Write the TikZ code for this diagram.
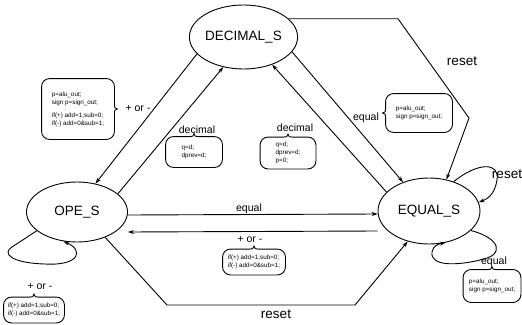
\documentclass[tikz,border=0pt]{standalone}
\usepackage{fontspec}
\setmainfont{Liberation Sans}
\usetikzlibrary{shapes.geometric,arrows.meta,calc}

\tikzset{
  state/.style={draw, ellipse, inner sep=0pt, minimum width=102pt, minimum height=62pt, font=\fontsize{13.5}{16}\selectfont},
  lbl/.style={font=\fontsize{10.5}{12}\selectfont, inner sep=1pt},
  biglbl/.style={font=\fontsize{13.5}{16}\selectfont, inner sep=1pt},
  memo/.style={align=left, inner sep=2pt, font=\fontsize{6.3}{8}\selectfont}
}

\newcommand{\memotop}[1]{%
  \draw[rounded corners=8pt] ($(#1.north)+(-4,0)$) -| (#1.south west) -| (#1.north east) -- ($(#1.north)+(4,0)$);
  \draw ($(#1.north)+(-4,0)$) .. controls ($(#1.north)+(-1,0)$) .. ($(#1.north)+(0,-3)$) .. controls ($(#1.north)+(1,0)$) .. ($(#1.north)+(4,0)$);}
\newcommand{\memoleft}[1]{%
  \draw[rounded corners=8pt] ($(#1.west)+(0,-4)$) |- (#1.north east) |- (#1.south west) -- ($(#1.west)+(0,4)$);
  \draw ($(#1.west)+(0,-4)$) .. controls ($(#1.west)+(0,-1)$) .. ($(#1.west)+(-3,0)$) .. controls ($(#1.west)+(0,1)$) .. ($(#1.west)+(0,4)$);}
\newcommand{\memoright}[1]{%
  \draw[rounded corners=8pt] ($(#1.east)+(0,-4)$) |- (#1.north west) |- (#1.south east) -- ($(#1.east)+(0,4)$);
  \draw ($(#1.east)+(0,-4)$) .. controls ($(#1.east)+(0,-1)$) .. ($(#1.east)+(3,0)$) .. controls ($(#1.east)+(0,1)$) .. ($(#1.east)+(0,4)$);}

\begin{document}
\begin{tikzpicture}[x=1pt,y=-1pt,line width=0.9pt,>={Stealth[length=6pt,width=4pt]}]
	\useasboundingbox (0,0) rectangle (522,324);

	\node[state, minimum width=106pt, minimum height=64pt] (dec) at (243.5,37) {DECIMAL\_S};
	\node[state, minimum width=101pt, minimum height=60pt] (ope) at (77,212) {OPE\_S};
	\node[state, minimum height=66pt] (eq) at (429,211) {EQUAL\_S};

	\coordinate (rt1) at (398,17);
	\coordinate (rt2) at (469,118);
	\coordinate (rb1) at (167,305);
	\coordinate (rb2) at (355,305);

	\draw[->] (dec.200) -- (ope.57);
	\draw[->] (ope.24) -- (dec.236);
	\draw[->] (dec.343) -- (eq.132);
	\draw[->] (eq.156) -- (dec.316);
	\draw[->] (dec.22) -- (dec.22 -| rt1) -- (rt2) -- (eq.61);
	\draw[->] ([yshift=-3pt]ope.east) -- ([yshift=-3pt]eq.west);
	\draw[->] ([yshift=-20pt]eq.west) -- ([yshift=-20pt]ope.east);
	\draw[->] (ope.318) -- (rb1) -- (rb2) -- (eq.235);

	\draw[->] (ope.205) -- (12,247) .. controls (2,253) and (10,263) .. (45,264) .. controls (80,266) and (84,250) .. (ope.245);
	\draw[->] (eq.50) .. controls (478,162) and (500,162) .. (497,180) .. controls (495,192) and (490,198) .. (eq.10);
	\draw[->] (eq.-25) .. controls (500,238) and (506,255) .. (480,260) .. controls (455,266) and (430,266) .. (432,252) .. controls (433,246) and (438,244) .. (eq.298);

	\node[lbl] (l1) at (138,109) {+ or -};
	\node[lbl] (l2) at (197,130) {decimal};
	\node[lbl] (l3) at (295,128) {decimal};
	\node[lbl] (l4) at (366,118) {equal};
	\node[biglbl] (l5) at (462,61) {reset};
	\node[biglbl] (l6) at (507,174) {reset};
	\node[lbl] (l7) at (249,209) {equal};
	\node[lbl] (l8) at (250,240) {+ or -};
	\node[biglbl] (l9) at (276,314) {reset};
	\node[lbl] (l10) at (40,287) {+ or -};
	\node[lbl] (l11) at (494,262) {equal};

	\node[memo, minimum width=72pt, minimum height=60pt] (m1) at (78,109) {p=alu\_out;\\ sign p=sign\_out;\\[5pt] if(+) add=1;sub=0;\\ if(-) add=0\&sub=1;};
	\node[memo, minimum width=56pt, minimum height=30pt] (m2) at (194,152) {q=d;\\ dprev=d;};
	\node[memo, minimum width=55pt, minimum height=31pt] (m3) at (288,153) {q=d;\\ dprev=d;\\ p=0;};
	\node[memo, minimum width=66pt, minimum height=38pt] (m4) at (419,113) {p=alu\_out;\\ sign p=sign\_out;};
	\node[memo, minimum width=62pt, minimum height=25pt] (m5) at (254,262) {if(+) add=1;sub=0;\\ if(-) add=0\&sub=1;};
	\node[memo, minimum width=60pt, minimum height=25pt] (m6) at (34,310) {if(+) add=1;sub=0;\\ if(-) add=0\&sub=1;};
	\node[memo, minimum width=57pt, minimum height=32pt] (m7) at (492,286) {p=alu\_out;\\ sign p=sign\_out;};

	\memoright{m1}
	\memotop{m2}
	\memotop{m3}
	\memoleft{m4}
	\memotop{m5}
	\memotop{m6}
	\memotop{m7}
\end{tikzpicture}
\end{document}
